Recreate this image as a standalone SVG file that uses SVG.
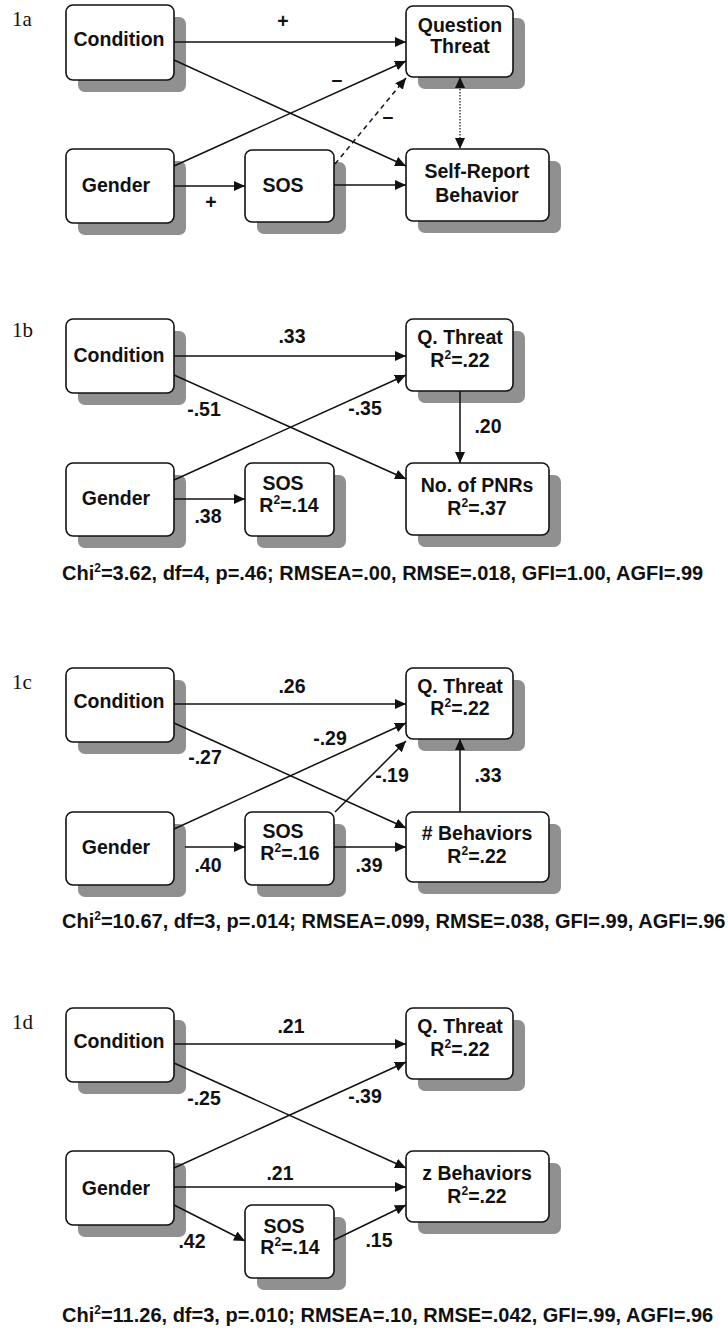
<svg xmlns="http://www.w3.org/2000/svg" width="728" height="1332" viewBox="0 0 728 1332">
  <defs>
    <style>
      .shadow { fill: #909090; }
      .box { fill: #ffffff; stroke: #111111; stroke-width: 1.6; }
      .t { font-family: "Liberation Sans", Arial, sans-serif; font-weight: bold; font-size: 19.5px; fill: #111111; text-anchor: middle; }
      .ft { font-family: "Liberation Sans", Arial, sans-serif; font-weight: bold; font-size: 20px; fill: #111111; }
      .panel { font-family: "Liberation Serif", "Times New Roman", serif; font-size: 21px; fill: #111111; }
      .sup { font-size: 12px; }
      .edge { stroke: #111111; stroke-width: 1.5; fill: none; marker-end: url(#ah); }
      .dash { stroke-dasharray: 5 4; }
      .dot { stroke-width: 1.2; stroke-dasharray: 1.5 1.5; marker-start: url(#ah); }
    </style>
    <marker id="ah" viewBox="0 0 11 10" refX="11" refY="5" markerWidth="11" markerHeight="10" markerUnits="userSpaceOnUse" orient="auto-start-reverse">
      <path d="M0,0 L11,5 L0,10 z" fill="#111111"/>
    </marker>
  </defs>

  <rect width="728" height="1332" fill="#ffffff"/>

  <!-- panel labels -->
  <text class="panel" x="12" y="26">1a</text>
  <text class="panel" x="12" y="337">1b</text>
  <text class="panel" x="12" y="689">1c</text>
  <text class="panel" x="12" y="1029">1d</text>

  <!-- ===== Model 1a ===== -->
  <g id="a-condition">
    <rect class="shadow" x="78" y="17" width="108" height="75" rx="7"/>
    <rect class="box" x="66" y="5" width="108" height="75" rx="7"/>
    <text class="t" x="119" y="46">Condition</text>
  </g>
  <g id="a-gender">
    <rect class="shadow" x="78" y="161" width="108" height="74" rx="7"/>
    <rect class="box" x="66" y="149" width="108" height="74" rx="7"/>
    <text class="t" x="116" y="192">Gender</text>
  </g>
  <g id="a-sos">
    <rect class="shadow" x="257" y="162" width="89" height="72" rx="7"/>
    <rect class="box" x="245" y="150" width="89" height="72" rx="7"/>
    <text class="t" x="283" y="192">SOS</text>
  </g>
  <g id="a-threat">
    <rect class="shadow" x="418" y="18" width="107" height="71" rx="7"/>
    <rect class="box" x="406" y="6" width="107" height="71" rx="7"/>
    <text class="t" x="460" y="32">Question</text>
    <text class="t" x="460" y="53">Threat</text>
  </g>
  <g id="a-selfreport">
    <rect class="shadow" x="418" y="161" width="143" height="72" rx="7"/>
    <rect class="box" x="406" y="149" width="143" height="72" rx="7"/>
    <text class="t" x="477" y="178">Self-Report</text>
    <text class="t" x="477" y="202">Behavior</text>
  </g>

  <!-- ===== Model 1b ===== -->
  <g id="b-condition">
    <rect class="shadow" x="78" y="331" width="108" height="74" rx="7"/>
    <rect class="box" x="66" y="319" width="108" height="74" rx="7"/>
    <text class="t" x="119" y="362">Condition</text>
  </g>
  <g id="b-gender">
    <rect class="shadow" x="78" y="475" width="108" height="73" rx="7"/>
    <rect class="box" x="66" y="463" width="108" height="73" rx="7"/>
    <text class="t" x="116" y="505">Gender</text>
  </g>
  <g id="b-sos">
    <rect class="shadow" x="257" y="475" width="89" height="73" rx="7"/>
    <rect class="box" x="245" y="463" width="89" height="73" rx="7"/>
    <text class="t" x="283" y="490">SOS</text>
    <text class="t" x="289" y="512">R<tspan class="sup" dy="-8">2</tspan><tspan dy="8">=.14</tspan></text>
  </g>
  <g id="b-threat">
    <rect class="shadow" x="418" y="331" width="107" height="72" rx="7"/>
    <rect class="box" x="406" y="319" width="107" height="72" rx="7"/>
    <text class="t" x="460" y="344">Q. Threat</text>
    <text class="t" x="460" y="367">R<tspan class="sup" dy="-8">2</tspan><tspan dy="8">=.22</tspan></text>
  </g>
  <g id="b-pnrs">
    <rect class="shadow" x="418" y="475" width="143" height="72" rx="7"/>
    <rect class="box" x="406" y="463" width="143" height="72" rx="7"/>
    <text class="t" x="477" y="492">No. of PNRs</text>
    <text class="t" x="477" y="515">R<tspan class="sup" dy="-8">2</tspan><tspan dy="8">=.37</tspan></text>
  </g>

  <!-- ===== Model 1c ===== -->
  <g id="c-condition">
    <rect class="shadow" x="78" y="680" width="108" height="74" rx="7"/>
    <rect class="box" x="66" y="668" width="108" height="74" rx="7"/>
    <text class="t" x="119" y="708">Condition</text>
  </g>
  <g id="c-gender">
    <rect class="shadow" x="78" y="824" width="108" height="73" rx="7"/>
    <rect class="box" x="66" y="812" width="108" height="73" rx="7"/>
    <text class="t" x="116" y="854">Gender</text>
  </g>
  <g id="c-sos">
    <rect class="shadow" x="257" y="824" width="89" height="73" rx="7"/>
    <rect class="box" x="245" y="812" width="89" height="73" rx="7"/>
    <text class="t" x="283" y="838">SOS</text>
    <text class="t" x="290" y="860">R<tspan class="sup" dy="-8">2</tspan><tspan dy="8">=.16</tspan></text>
  </g>
  <g id="c-threat">
    <rect class="shadow" x="418" y="680" width="107" height="71" rx="7"/>
    <rect class="box" x="406" y="668" width="107" height="71" rx="7"/>
    <text class="t" x="460" y="693">Q. Threat</text>
    <text class="t" x="460" y="715">R<tspan class="sup" dy="-8">2</tspan><tspan dy="8">=.22</tspan></text>
  </g>
  <g id="c-behaviors">
    <rect class="shadow" x="418" y="824" width="143" height="70" rx="7"/>
    <rect class="box" x="406" y="812" width="143" height="70" rx="7"/>
    <text class="t" x="477" y="840"># Behaviors</text>
    <text class="t" x="477" y="863">R<tspan class="sup" dy="-8">2</tspan><tspan dy="8">=.22</tspan></text>
  </g>

  <!-- ===== Model 1d ===== -->
  <g id="d-condition">
    <rect class="shadow" x="78" y="1020" width="108" height="74" rx="7"/>
    <rect class="box" x="66" y="1008" width="108" height="74" rx="7"/>
    <text class="t" x="119" y="1048">Condition</text>
  </g>
  <g id="d-gender">
    <rect class="shadow" x="78" y="1163" width="108" height="74" rx="7"/>
    <rect class="box" x="66" y="1151" width="108" height="74" rx="7"/>
    <text class="t" x="116" y="1195">Gender</text>
  </g>
  <g id="d-sos">
    <rect class="shadow" x="257" y="1217" width="89" height="73" rx="7"/>
    <rect class="box" x="245" y="1205" width="89" height="73" rx="7"/>
    <text class="t" x="284" y="1233">SOS</text>
    <text class="t" x="290" y="1254">R<tspan class="sup" dy="-8">2</tspan><tspan dy="8">=.14</tspan></text>
  </g>
  <g id="d-threat">
    <rect class="shadow" x="418" y="1020" width="107" height="71" rx="7"/>
    <rect class="box" x="406" y="1008" width="107" height="71" rx="7"/>
    <text class="t" x="460" y="1033">Q. Threat</text>
    <text class="t" x="460" y="1056">R<tspan class="sup" dy="-8">2</tspan><tspan dy="8">=.22</tspan></text>
  </g>
  <g id="d-behaviors">
    <rect class="shadow" x="418" y="1163" width="143" height="71" rx="7"/>
    <rect class="box" x="406" y="1151" width="143" height="71" rx="7"/>
    <text class="t" x="477" y="1180">z Behaviors</text>
    <text class="t" x="477" y="1203">R<tspan class="sup" dy="-8">2</tspan><tspan dy="8">=.22</tspan></text>
  </g>

  <!-- paths between variables -->
  <g id="connectors">
    <!-- 1a -->
    <path class="edge" d="M174,42 H406"/>
    <path class="edge" d="M174,60 L406,166"/>
    <path class="edge" d="M174,166 L406,61"/>
    <path class="edge" d="M174,186 H245"/>
    <path class="edge" d="M334,185 H406"/>
    <path class="edge dash" d="M335,164 L406,78"/>
    <path class="edge dot" d="M460,77 V149"/>
    <!-- 1b -->
    <path class="edge" d="M174,356 H406"/>
    <path class="edge" d="M174,375 L406,479"/>
    <path class="edge" d="M174,480 L406,375"/>
    <path class="edge" d="M174,499 H245"/>
    <path class="edge" d="M460,391 V463"/>
    <!-- 1c -->
    <path class="edge" d="M174,704 H406"/>
    <path class="edge" d="M174,723 L406,828"/>
    <path class="edge" d="M174,829 L406,723"/>
    <path class="edge" d="M185,847 H245"/>
    <path class="edge" d="M334,847 H406"/>
    <path class="edge" d="M335,812 L406,741"/>
    <path class="edge" d="M460,812 V739"/>
    <!-- 1d -->
    <path class="edge" d="M174,1044 H406"/>
    <path class="edge" d="M174,1063 L406,1168"/>
    <path class="edge" d="M174,1168 L406,1062"/>
    <path class="edge" d="M174,1187 H406"/>
    <path class="edge" d="M174,1205 L245,1241"/>
    <path class="edge" d="M334,1240 L406,1205"/>
  </g>

  <!-- path signs and coefficients -->
  <g id="edge-labels">
    <text class="t" x="283" y="28">+</text>
    <text class="t" x="337" y="86">–</text>
    <text class="t" x="388" y="123">–</text>
    <text class="t" x="211" y="209">+</text>

    <text class="t" x="292" y="343">.33</text>
    <text class="t" x="204" y="416">-.51</text>
    <text class="t" x="365" y="415">-.35</text>
    <text class="t" x="208" y="523">.38</text>
    <text class="t" x="488" y="433">.20</text>

    <text class="t" x="292" y="693">.26</text>
    <text class="t" x="330" y="745">-.29</text>
    <text class="t" x="205" y="764">-.27</text>
    <text class="t" x="392" y="782">-.19</text>
    <text class="t" x="488" y="782">.33</text>
    <text class="t" x="208" y="872">.40</text>
    <text class="t" x="369" y="872">.39</text>

    <text class="t" x="291" y="1033">.21</text>
    <text class="t" x="204" y="1105">-.25</text>
    <text class="t" x="365" y="1103">-.39</text>
    <text class="t" x="280" y="1180">.21</text>
    <text class="t" x="192" y="1248">.42</text>
    <text class="t" x="379" y="1247">.15</text>
  </g>

  <!-- fit statistics -->
  <g id="fit-stats">
    <text class="ft" x="62" y="580">Chi<tspan class="sup" dy="-8">2</tspan><tspan dy="8">=3.62, df=4, p=.46; RMSEA=.00, RMSE=.018, GFI=1.00, AGFI=.99</tspan></text>
    <text class="ft" x="62" y="928">Chi<tspan class="sup" dy="-8">2</tspan><tspan dy="8">=10.67, df=3, p=.014; RMSEA=.099, RMSE=.038, GFI=.99, AGFI=.96</tspan></text>
    <text class="ft" x="62" y="1322">Chi<tspan class="sup" dy="-8">2</tspan><tspan dy="8">=11.26, df=3, p=.010; RMSEA=.10, RMSE=.042, GFI=.99, AGFI=.96</tspan></text>
  </g>
</svg>
